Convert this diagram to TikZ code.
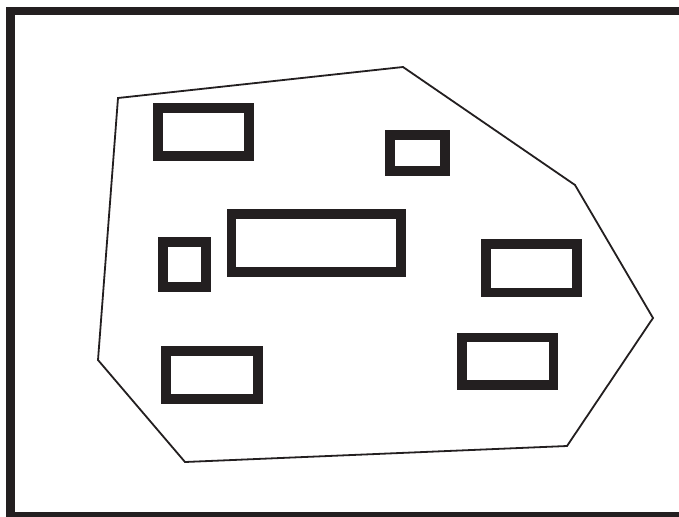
\documentclass[tikz,border=0pt]{standalone}
\definecolor{ink}{HTML}{231F20}
\tikzset{
  roombox/.style={draw=ink, line width=9.8pt},
  outline/.style={draw=ink, line width=1.8pt, line join=miter},
  framebox/.style={draw=ink, line width=8.8pt}
}
\begin{document}
\begin{tikzpicture}[x=1pt,y=-1pt]
\useasboundingbox (0,0) rectangle (679,516);
\clip (0,0) rectangle (679,516);
\fill[white] (0,0) rectangle (679,516);
% outer frame (right and bottom edges run off the picture)
\draw[framebox] (10.5,11) rectangle (690,516.8);
% polygon outline
\draw[outline] (118,98) -- (403,67) -- (575,185) -- (653,318) -- (567,446) -- (185,462) -- (98,360) -- cycle;
% rectangles
\draw[roombox] (157.7,108) rectangle (249.2,156);
\draw[roombox] (389.7,134.7) rectangle (444.7,171);
\draw[roombox] (231.5,214) rectangle (400.8,272);
\draw[roombox] (162.7,241.7) rectangle (205.7,287);
\draw[roombox] (485.7,244.3) rectangle (577.2,292.5);
\draw[roombox] (166.3,351) rectangle (257.7,399.3);
\draw[roombox] (461.8,337.5) rectangle (553.5,385.3);
\end{tikzpicture}
\end{document}
